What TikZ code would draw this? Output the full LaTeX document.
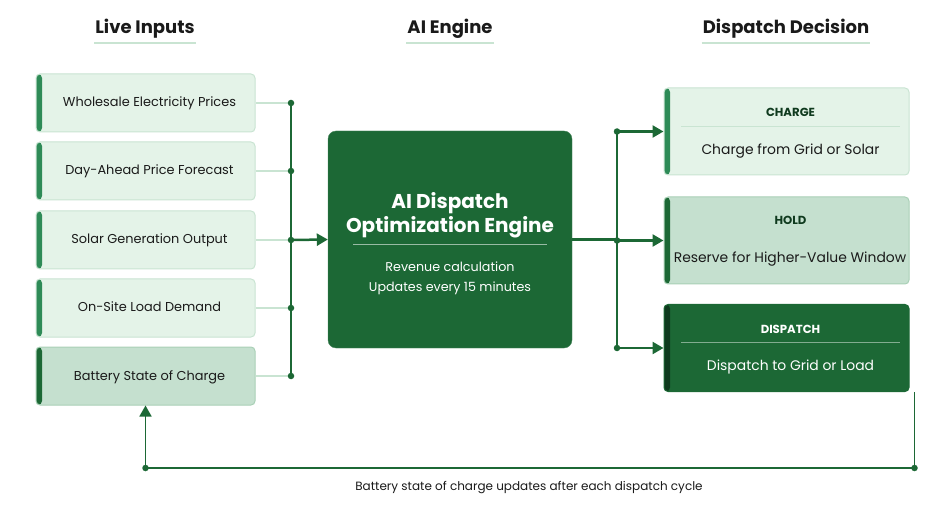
\documentclass[tikz,border=0pt]{standalone}
\usepackage{fontspec}
\setmainfont{Poppins}
\usetikzlibrary{arrows.meta,positioning,calc}
\definecolor{EngGreen}{HTML}{1C6835}
\definecolor{BarGreen}{HTML}{2E8B57}
\definecolor{DeepGreen}{HTML}{0F3A1E}
\definecolor{PaleFill}{HTML}{E4F3E8}
\definecolor{PaleEdge}{HTML}{C9E4D2}
\definecolor{MidFill}{HTML}{C5E0CF}
\definecolor{MidEdge}{HTML}{A9D0B6}
\definecolor{InkText}{HTML}{1A1A1A}

\begin{document}
\begin{tikzpicture}[x=1pt, y=-1pt,
  head/.style={font=\fontsize{18}{20}\selectfont\bfseries, text=InkText, inner sep=1pt},
  bar/.style={path picture={\fill[#1] (path picture bounding box.north west) rectangle ([xshift=6pt]path picture bounding box.south west);}},
  inbox/.style={draw=PaleEdge, fill=PaleFill, line width=1pt, rounded corners=4pt, minimum width=219pt, minimum height=58pt, text height=9pt, text depth=1pt, font=\fontsize{12.9}{15}\selectfont, text=InkText, bar=BarGreen, execute at begin node=\hspace*{8pt}},
  outbox/.style={draw=PaleEdge, fill=PaleFill, line width=1pt, rounded corners=4pt, minimum width=245pt, minimum height=87pt, bar=BarGreen},
  outtitle/.style={font=\fontsize{11.7}{13}\selectfont\bfseries, text=DeepGreen},
  outtext/.style={font=\fontsize{13.9}{16}\selectfont, text=InkText},
  feed/.style={PaleEdge, line width=1.5pt},
  bus/.style={EngGreen, line width=2.5pt},
  loopline/.style={EngGreen, line width=1.6pt},
  tip/.style={-{Triangle[length=11pt, width=12pt]}},
  dot/.style={circle, fill=EngGreen, inner sep=0pt, minimum size=6.5pt}]

\useasboundingbox (0,0) rectangle (952,510);

% Column headings
\node[head] (hin) at (145,29) {Live Inputs};
\node[head] (heng) at (450,29) {AI Engine};
\node[head] (hdec) at (786,29) {Dispatch Decision};
\foreach \h in {hin,heng,hdec}
  \draw[PaleEdge, line width=1.5pt] ([yshift=-3pt]\h.south west) -- ([yshift=-3pt]\h.south east);

% Live inputs
\node[inbox] (in1) at (145.5,103) {Wholesale Electricity Prices};
\node[inbox] (in2) at (145.5,171) {Day-Ahead Price Forecast};
\node[inbox] (in3) at (145.5,240) {Solar Generation Output};
\node[inbox] (in4) at (145.5,308) {On-Site Load Demand};
\node[inbox, fill=MidFill, draw=MidEdge, bar=EngGreen] (in5) at (145.5,376) {Battery State of Charge};

% Engine
\node[draw=EngGreen!80, fill=EngGreen, rounded corners=8pt, minimum width=244pt, minimum height=217pt] (eng) at (450,239.5) {};
\node[text=white, font=\fontsize{20}{24}\selectfont\bfseries, align=center] (engtitle) at (450,215) {AI Dispatch\\Optimization Engine};
\draw[white!55!EngGreen, line width=0.8pt] (353,244) -- (547,244);
\node[text=white, font=\fontsize{12.7}{20}\selectfont, align=center] (engsub) at (450,278) {Revenue calculation\\Updates every 15 minutes};

% Decisions
\node[outbox] (ch) at (786.5,131.5) {};
\node[outtitle] (chtitle) at (790.5,112) {CHARGE};
\draw[PaleEdge, line width=0.8pt] (681,126) -- (900,126);
\node[outtext] (chtext) at (790.5,151.5) {Charge from Grid or Solar};

\node[outbox, fill=MidFill, draw=MidEdge, bar=EngGreen] (hd) at (786.5,240.5) {};
\node[outtitle] (hdtitle) at (790.5,220) {HOLD};
\node[outtext] (hdtext) at (790,259.5) {Reserve for Higher-Value Window};

\node[outbox, fill=EngGreen, draw=EngGreen, bar=DeepGreen] (dp) at (786.5,348) {};
\node[outtitle, text=white] (dptitle) at (790.5,329) {DISPATCH};
\draw[white!45!EngGreen, line width=0.8pt] (681,342) -- (900,342);
\node[outtext, text=white] (dptext) at (790.5,367.5) {Dispatch to Grid or Load};

% Input bus
\coordinate (bl) at (291,0);
\foreach \i in {1,...,5}
  \draw[feed] (in\i.east) -- (in\i.east -| bl);
\draw[bus] (in1.east -| bl) -- (in5.east -| bl);
\draw[bus, tip] (in3.east -| bl) -- (eng.west);
\foreach \i in {1,...,5}
  \node[dot] at (in\i.east -| bl) {};

% Output bus
\coordinate (br) at (617,0);
\draw[bus] (eng.east) -- (eng.east -| br);
\draw[bus] (ch.west -| br) -- (dp.west -| br);
\foreach \o in {ch,hd,dp} {
  \draw[bus, tip] (\o.west -| br) -- (\o.west);
  \node[dot] at (\o.west -| br) {};
}

% Feedback loop
\coordinate (fbtop) at ($(dp.south east)+(5,0)$);
\coordinate (fbright) at ($(fbtop)+(0,76)$);
\coordinate (fbleft) at (in5.south |- fbright);
\draw[loopline] (fbtop) -- (fbright) -- (fbleft);
\draw[loopline, tip] (fbleft) -- (in5.south);
\node[dot] at (fbright) {};
\node[dot] at (fbleft) {};
\node[font=\fontsize{12}{14}\selectfont, text=InkText] (fblabel) at (529,488) {Battery state of charge updates after each dispatch cycle};
\end{tikzpicture}
\end{document}
